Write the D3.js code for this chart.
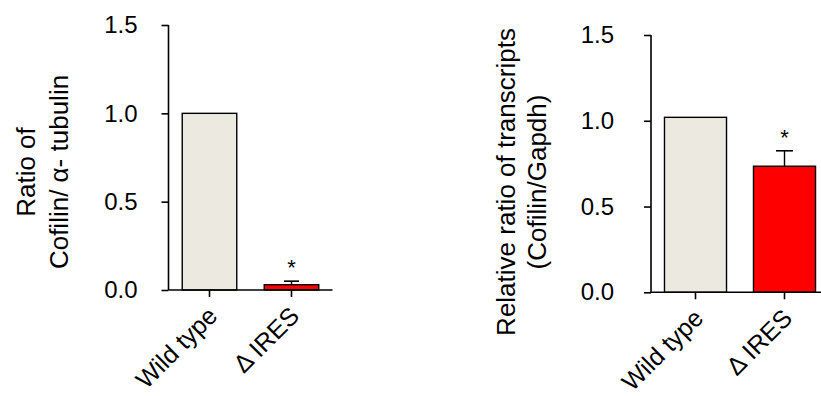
<!DOCTYPE html>
<html>
<head>
<meta charset="utf-8">
<script src="https://cdn.jsdelivr.net/npm/d3@7"></script>
<style>
  html, body { margin: 0; padding: 0; background: #fff; }
  svg { display: block; font-family: "Liberation Sans", Arial, sans-serif; }
</style>
</head>
<body>
<svg id="chart" width="821" height="396"></svg>
<script>
// ---- data ----
const categories = ["Wild type", "\u0394 IRES"];
const proteinValues = [1.0, 0.03];
const proteinErrors = [0, 0.02];
const transcriptValues = [1.02, 0.735];
const transcriptErrors = [0, 0.09];
const yTickValues = [0, 0.5, 1.0, 1.5];
const significance = ["", "*"];
const barColors = ["#ECEAE0", "#FF0000"];
const proteinTitle = ["Ratio of", "Cofilin/ \u03B1- tubulin"];
const transcriptTitle = ["Relative ratio of transcripts", "(Cofilin/Gapdh)"];

const svg = d3.select("#chart");

function drawPanel(cfg) {
  const g = svg.append("g");
  const y = d3.scaleLinear().domain([0, 1.5]).range([cfg.y0, cfg.y1]);
  const x = d3.scaleBand().domain(categories).range([cfg.x0, cfg.x1])
    .paddingInner(cfg.pad).paddingOuter(cfg.pad / 2);

  // bars
  g.selectAll("rect.bar").data(categories).join("rect")
    .attr("x", d => x(d))
    .attr("width", x.bandwidth())
    .attr("y", (d, i) => y(cfg.values[i]))
    .attr("height", (d, i) => y(0) - y(cfg.values[i]))
    .attr("fill", (d, i) => barColors[i])
    .attr("stroke", "#000")
    .attr("stroke-width", 1.4);

  // error bars (upper only) and significance marks
  categories.forEach((c, i) => {
    const e = cfg.errors[i];
    const cx = x(c) + x.bandwidth() / 2;
    if (e > 0) {
      g.append("line").attr("x1", cx).attr("x2", cx)
        .attr("y1", y(cfg.values[i])).attr("y2", y(cfg.values[i] + e))
        .attr("stroke", "#000").attr("stroke-width", 1.4);
      g.append("line").attr("x1", cx - cfg.cap / 2).attr("x2", cx + cfg.cap / 2)
        .attr("y1", y(cfg.values[i] + e)).attr("y2", y(cfg.values[i] + e))
        .attr("stroke", "#000").attr("stroke-width", 1.6);
    }
    if (significance[i]) {
      g.append("text").attr("x", cx).attr("y", y(cfg.values[i] + e) - 6)
        .attr("text-anchor", "middle")
        .attr("font-size", 22).attr("fill", "#000")
        .text(significance[i]);
    }
  });

  // y axis
  const yAxis = d3.axisLeft(y).tickValues(yTickValues)
    .tickFormat(d3.format(".1f")).tickSize(7).tickPadding(cfg.tickPad);
  const ya = g.append("g").attr("transform", `translate(${cfg.x0},0)`).call(yAxis);
  ya.select(".domain").attr("d", `M0,${cfg.y1}V${cfg.y0}`).attr("stroke-width", 1.6);
  ya.selectAll(".tick line").attr("stroke-width", 1.6);
  ya.selectAll(".tick text").attr("font-size", 24).attr("fill", "#000")
    .attr("font-family", "Liberation Sans, Arial, sans-serif");

  // x axis
  const xAxis = d3.axisBottom(x).tickSize(7).tickSizeOuter(0).tickFormat("");
  const xa = g.append("g").attr("transform", `translate(0,${cfg.y0})`).call(xAxis);
  xa.select(".domain").attr("d", `M${cfg.x0},0H${cfg.xEnd}`).attr("stroke-width", 1.6);
  xa.selectAll(".tick line").attr("stroke-width", 1.6);

  // rotated x labels
  categories.forEach(c => {
    const cx = x(c) + x.bandwidth() / 2 + 3;
    const cy = cfg.y0 + 21;
    g.append("text")
      .attr("transform", `translate(${cx},${cy}) rotate(-45)`)
      .attr("text-anchor", "end")
      .attr("dominant-baseline", "central")
      .attr("font-size", 25).attr("fill", "#000")
      .text(c);
  });

  // axis title
  cfg.title.forEach((t, i) => {
    g.append("text")
      .attr("transform", `translate(${cfg.titleX[i]},${cfg.titleY}) rotate(-90)`)
      .attr("text-anchor", "middle")
      .attr("font-size", 26).attr("fill", "#000")
      .text(t);
  });
}

drawPanel({
  values: proteinValues, errors: proteinErrors,
  x0: 168.5, x1: 332.5, xEnd: 332.5, y0: 290, y1: 25, pad: 0.335,
  cap: 15, tickPad: 24, title: proteinTitle, titleX: [35, 68], titleY: 172
});

drawPanel({
  values: transcriptValues, errors: transcriptErrors,
  x0: 651, x1: 829, xEnd: 829, y0: 292.3, y1: 35, pad: 0.303,
  cap: 17, tickPad: 30, title: transcriptTitle, titleX: [515, 546], titleY: 182
});
</script>
</body>
</html>
